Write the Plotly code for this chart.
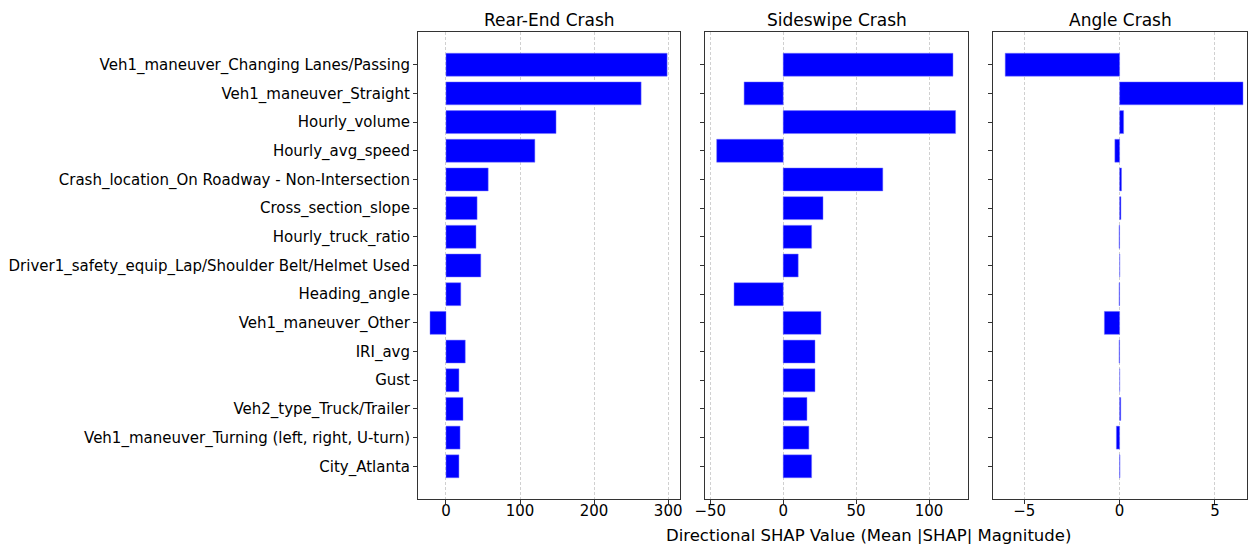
import plotly.graph_objects as go
from plotly.subplots import make_subplots

features = [
    "Veh1_maneuver_Changing Lanes/Passing",
    "Veh1_maneuver_Straight",
    "Hourly_volume",
    "Hourly_avg_speed",
    "Crash_location_On Roadway - Non-Intersection",
    "Cross_section_slope",
    "Hourly_truck_ratio",
    "Driver1_safety_equip_Lap/Shoulder Belt/Helmet Used",
    "Heading_angle",
    "Veh1_maneuver_Other",
    "IRI_avg",
    "Gust",
    "Veh2_type_Truck/Trailer",
    "Veh1_maneuver_Turning (left, right, U-turn)",
    "City_Atlanta",
]

rear_end = [298.6, 263.5, 148.6, 120.0, 57.0, 42.0, 40.5, 47.0, 20.0, -21.6,
            26.0, 17.5, 23.0, 19.0, 17.5]
sideswipe = [116.4, -26.8, 118.2, -45.6, 68.3, 27.3, 19.5, 10.3, -33.7, 25.9,
             21.8, 21.8, 16.3, 17.6, 19.5]
angle = [-6.0, 6.47, 0.21, -0.25, 0.10, 0.07, -0.03, 0.01, -0.03, -0.80,
         -0.03, 0.005, 0.06, -0.17, 0.02]

titles = ["Rear-End Crash", "Sideswipe Crash", "Angle Crash"]
series = [rear_end, sideswipe, angle]
x_ranges = [[-37.8, 316.0], [-53.6, 126.7], [-6.64, 6.68]]
x_ticks = [[0, 100, 200, 300], [-50, 0, 50, 100], [-5, 0, 5]]
domains = [[418 / 1249, 680 / 1249], [705 / 1249, 968 / 1249], [993 / 1249, 1247 / 1249]]

W, H = 1249, 544
font = "DejaVu Sans"

fig = make_subplots(rows=1, cols=3, shared_yaxes=True)

for i, vals in enumerate(series):
    fig.add_trace(
        go.Bar(
            x=vals, y=features, orientation="h",
            marker=dict(color="#0000ff", line=dict(width=0.6, color="rgba(120,120,255,0.8)")),
            width=0.8, showlegend=False,
        ),
        row=1, col=i + 1,
    )

ydom = [(H - 499) / H, (H - 32) / H]
for i in range(3):
    xa = "xaxis" if i == 0 else f"xaxis{i + 1}"
    ya = "yaxis" if i == 0 else f"yaxis{i + 1}"
    fig.layout[xa].update(
        domain=domains[i], range=x_ranges[i], tickvals=x_ticks[i], automargin=False,
        showgrid=True, gridcolor="#d0d0d0", griddash="3px,2px", gridwidth=0.8,
        zeroline=False, showline=True, linecolor="#333333", linewidth=1, mirror=True,
        ticks="outside", ticklen=4, tickcolor="#333333", ticklabelstandoff=-6,
        tickfont=dict(family=font, size=15, color="black"),
    )
    fig.layout[ya].update(
        domain=ydom, range=[14 + 1.14, -1.14], automargin=False,
        showgrid=False, zeroline=False, showline=True, linecolor="#333333", linewidth=1,
        mirror=True, ticks="outside", ticklen=4, tickcolor="#333333",
        showticklabels=(i == 0),
        tickfont=dict(family=font, size=15, color="black"),
    )
    fig.add_annotation(
        text=titles[i], xref="paper", yref="paper",
        x=(domains[i][0] + domains[i][1]) / 2, y=(H - 20) / H,
        xanchor="center", yanchor="middle", showarrow=False,
        font=dict(family=font, size=17, color="black"),
    )

fig.add_annotation(
    text="Directional SHAP Value (Mean |SHAP| Magnitude)", xref="paper", yref="paper",
    x=868 / W, y=(H - 535) / H, xanchor="center", yanchor="middle", showarrow=False,
    font=dict(family=font, size=16.5, color="black"),
)

fig.update_layout(
    width=W, height=H, margin=dict(l=0, r=0, t=0, b=0),
    plot_bgcolor="white", paper_bgcolor="white", bargap=0.2,
)

fig.write_html(
    "out.html",
    config={"displayModeBar": False},
    post_script="document.body.style.margin='0';document.body.style.overflow='hidden';",
)
